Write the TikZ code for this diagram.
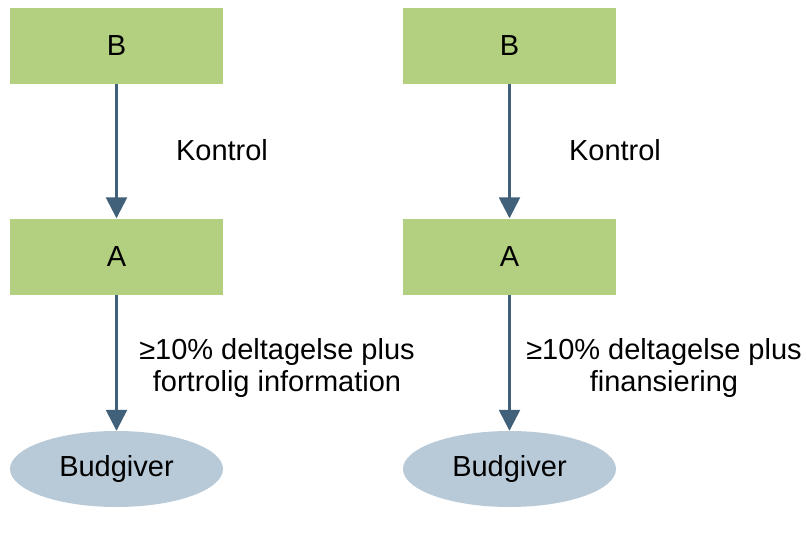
\documentclass[tikz,border=0pt]{standalone}
\usepackage{fontspec}
\setmainfont{Liberation Sans}
\usetikzlibrary{arrows.meta,shapes.geometric}
\definecolor{boxFill}{HTML}{B3CF80}
\definecolor{bidFill}{HTML}{B8CAD8}
\definecolor{linkColor}{HTML}{41607A}
\tikzset{
  entity/.style={fill=boxFill,minimum width=213pt,minimum height=76pt,inner sep=0pt},
  bidder/.style={ellipse,fill=bidFill,minimum width=213pt,minimum height=76pt,inner sep=0pt},
  link/.style={linkColor,line width=2.6pt,-{Triangle[width=21pt,length=21pt]}},
  tag/.style={align=center}
}

\begin{document}
\begin{tikzpicture}[x=1pt,y=-1pt,font=\fontsize{29}{32}\selectfont]
\useasboundingbox (0,0) rectangle (807,554);
% left case
\node[entity] (bL) at (116.5,46) {B};
\node[entity] (aL) at (116.5,256.5) {A};
\node[bidder] (budL) at (116.5,469) {Budgiver};
\draw[link] (bL) -- (aL);
\draw[link] (aL) -- (budL);
\node[tag] (kL) at (222,150) {Kontrol};
\node[tag] (dL) at (277,368) {≥10\% deltagelse plus\\fortrolig information};
% right case
\node[entity] (bR) at (509.5,46) {B};
\node[entity] (aR) at (509.5,256.5) {A};
\node[bidder] (budR) at (509.5,469) {Budgiver};
\draw[link] (bR) -- (aR);
\draw[link] (aR) -- (budR);
\node[tag] (kR) at (615,150) {Kontrol};
\node[tag] (dR) at (664,368) {≥10\% deltagelse plus\\finansiering};
\end{tikzpicture}
\end{document}
